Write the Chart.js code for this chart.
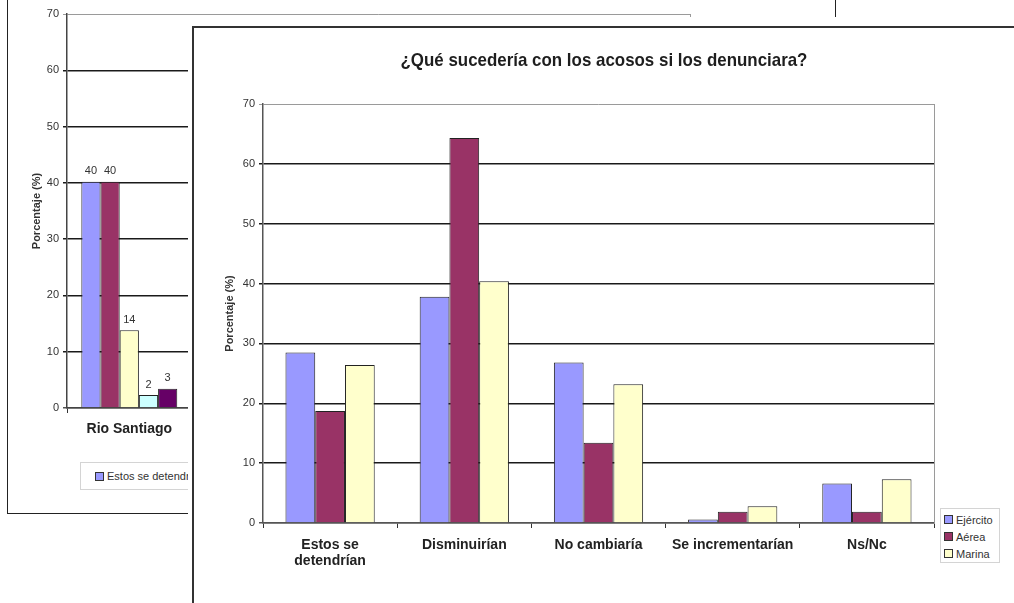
<!DOCTYPE html>
<html>
<head>
<meta charset="utf-8">
<script src="https://cdn.jsdelivr.net/npm/chart.js@4/dist/chart.umd.min.js"></script>
<style>
  html, body { margin:0; padding:0; background:#fff; }
  body { width:1014px; height:603px; overflow:hidden; position:relative; font-family:"Liberation Sans", Arial, sans-serif; }
  .abs { position:absolute; }
  #bgFrame { left:7px; top:-20px; width:829px; height:534px; border:1.5px solid #222; box-sizing:border-box; }
  #bgLegend { left:80px; top:462px; height:28px; width:720px; border:1px solid #d4d4d4; box-sizing:border-box; background:#fff;
              display:flex; align-items:center; padding-left:14px; font-size:11px; color:#333; white-space:nowrap; }
  #fgWhite { left:188px; top:17px; right:0; bottom:0; background:#fff; }
  #fgBox { left:192px; top:26px; width:900px; height:700px; border:2px solid #333; box-sizing:border-box; }
  #fgTitle { left:194px; top:48px; width:820px; height:24px; line-height:24px; text-align:center; font-size:19px; font-weight:bold;
             color:#1e1e1e; transform:scaleX(0.89); transform-origin:50% 50%; white-space:nowrap; }
  #fgLegend { left:940px; top:508px; width:60px; height:55px; border:1px solid #d4d4d4; box-sizing:border-box; background:#fff;
              font-size:11px; color:#333; padding-top:2px; }
  .item { display:flex; align-items:center; height:17px; margin-right:14px; }
  #fgLegend .item { padding-left:3px; margin-right:0; }
  .sw { width:7px; height:7px; border:1px solid #333; margin-right:3px; flex:none; }
</style>
</head>
<body>
<div id="bgFrame" class="abs"></div>
<canvas id="bg" class="abs" style="left:9px;top:0px" width="825" height="512"></canvas>
<div id="bgLegend" class="abs"></div>
<div id="fgWhite" class="abs"></div>
<div id="fgBox" class="abs"></div>
<canvas id="fg" class="abs" style="left:194px;top:28px" width="820" height="575"></canvas>
<div id="fgTitle" class="abs"></div>
<div id="fgLegend" class="abs"></div>
<script>
// ---------- Data: front chart ----------
const fgTitle = '¿Qué sucedería con los acosos si los denunciara?';
const fgCategories = [['Estos se', 'detendrían'], 'Disminuirían', 'No cambiaría', 'Se incrementarían', 'Ns/Nc'];
const fgSeriesNames = ['Ejército', 'Aérea', 'Marina'];
const ejercito = [28.5, 37.8, 26.8, 0.6, 6.6];
const aerea    = [18.7, 64.3, 13.4, 1.9, 1.9];
const marina   = [26.4, 40.4, 23.2, 2.8, 7.3];
const yTicks   = [0, 10, 20, 30, 40, 50, 60, 70];
const yAxisTitle = 'Porcentaje (%)';

// ---------- Data: back chart (only first site visible; others hidden behind front chart) ----------
const bgCategories = ['Rio Santiago', '', '', '', ''];
const bgSeriesNames = ['Estos se detendrían', 'Disminuirían', 'No cambiaría', 'Se incrementarían', 'Ns/Nc'];
const rioSantiago = [40.2, 40.2, 13.8, 2.3, 3.4];

const COLORS = ['#9999FF', '#993366', '#FFFFCC', '#CCFFFF', '#660066'];
const FONT = '"Liberation Sans", Arial, sans-serif';
Chart.defaults.font.family = FONT;
Chart.defaults.color = '#333';

function gridColor(ctx) { return ctx.tick && ctx.tick.value === 70 ? '#9a9a9a' : (ctx.tick && ctx.tick.value === 0 ? '#555' : '#1a1a1a'); }
function gridWidth(ctx) { return ctx.tick && ctx.tick.value === 70 ? 1 : 1.5; }

const valueLabels = {
  id: 'valueLabels',
  afterDatasetsDraw(chart) {
    const ctx = chart.ctx;
    ctx.save();
    ctx.font = '11px ' + FONT;
    ctx.fillStyle = '#333';
    ctx.textAlign = 'center';
    ctx.textBaseline = 'bottom';
    chart.data.datasets.forEach((ds, i) => {
      chart.getDatasetMeta(i).data.forEach((bar, j) => {
        const v = ds.data[j];
        if (v == null) return;
        ctx.fillText(String(Math.round(v)), bar.x, bar.y - 5);
      });
    });
    ctx.restore();
  }
};

// ---------- Back chart ----------
new Chart(document.getElementById('bg'), {
  type: 'bar',
  data: {
    labels: bgCategories,
    datasets: bgSeriesNames.map((name, i) => ({
      label: name,
      data: bgCategories.map((c, j) => j === 0 ? rioSantiago[i] : null),
      backgroundColor: COLORS[i],
      borderColor: '#222',
      borderWidth: 1,
      categoryPercentage: 0.77,
      barPercentage: 1
    }))
  },
  plugins: [valueLabels],
  options: {
    responsive: false, animation: false, devicePixelRatio: 1,
    layout: { padding: { top: 14, left: 0, right: 0, bottom: 0 } },
    plugins: { legend: { display: false }, tooltip: { enabled: false } },
    scales: {
      x: {
        grid: { drawOnChartArea: false, color: '#333', tickLength: 5, offset: true },
        border: { color: '#444', width: 1.5 },
        ticks: { font: { size: 14, weight: 'bold' }, color: '#222', padding: 8, maxRotation: 0, autoSkip: false },
        afterFit(s) { s.height = 104; }
      },
      y: {
        min: 0, max: 70,
        afterBuildTicks(s) { s.ticks = yTicks.map(v => ({ value: v })); },
        grid: { color: gridColor, lineWidth: gridWidth, tickLength: 4 },
        border: { color: '#444', width: 1.5 },
        ticks: { font: { size: 11 }, color: '#333', padding: 4 },
        title: { display: true, text: yAxisTitle, font: { size: 11, weight: 'bold' }, color: '#333', padding: { top: 21, bottom: 0 } },
        afterFit(s) { s.width = 58; }
      },
      yR: {
        position: 'right', display: true,
        grid: { drawOnChartArea: false, drawTicks: false },
        border: { color: '#9a9a9a', width: 1 },
        ticks: { display: false },
        afterFit(s) { s.width = 144; }
      }
    }
  }
});

// ---------- Front chart ----------
document.getElementById('fgTitle').textContent = fgTitle;
new Chart(document.getElementById('fg'), {
  type: 'bar',
  data: {
    labels: fgCategories,
    datasets: [ejercito, aerea, marina].map((d, i) => ({
      label: fgSeriesNames[i],
      data: d,
      backgroundColor: COLORS[i],
      borderColor: '#222',
      borderWidth: 1,
      categoryPercentage: 0.665,
      barPercentage: 1
    }))
  },
  options: {
    responsive: false, animation: false, devicePixelRatio: 1,
    layout: { padding: { top: 76, left: 0, right: 0, bottom: 0 } },
    plugins: { legend: { display: false }, tooltip: { enabled: false } },
    scales: {
      x: {
        grid: { drawOnChartArea: false, color: '#333', tickLength: 5, offset: true },
        border: { color: '#555', width: 1.5 },
        ticks: { font: { size: 14, weight: 'bold', lineHeight: 1.15 }, color: '#222', padding: 9, maxRotation: 0, autoSkip: false },
        afterFit(s) { s.height = 80; }
      },
      y: {
        min: 0, max: 70,
        afterBuildTicks(s) { s.ticks = yTicks.map(v => ({ value: v })); },
        grid: { color: gridColor, lineWidth: gridWidth, tickLength: 4 },
        border: { color: '#555', width: 1.5 },
        ticks: { font: { size: 11 }, color: '#333', padding: 4 },
        title: { display: true, text: yAxisTitle, font: { size: 11, weight: 'bold' }, color: '#333', padding: { top: 29, bottom: 0 } },
        afterFit(s) { s.width = 69; }
      },
      yR: {
        position: 'right', display: true,
        grid: { drawOnChartArea: false, drawTicks: false },
        border: { color: '#9a9a9a', width: 1 },
        ticks: { display: false },
        afterFit(s) { s.width = 80; }
      }
    }
  }
});

// ---------- HTML legends ----------
function buildLegend(el, names) {
  names.forEach((n, i) => {
    const it = document.createElement('div'); it.className = 'item';
    const sw = document.createElement('span'); sw.className = 'sw'; sw.style.background = COLORS[i];
    const tx = document.createElement('span'); tx.textContent = n;
    it.appendChild(sw); it.appendChild(tx); el.appendChild(it);
  });
}
buildLegend(document.getElementById('bgLegend'), bgSeriesNames);
buildLegend(document.getElementById('fgLegend'), fgSeriesNames);
</script>
</body>
</html>
